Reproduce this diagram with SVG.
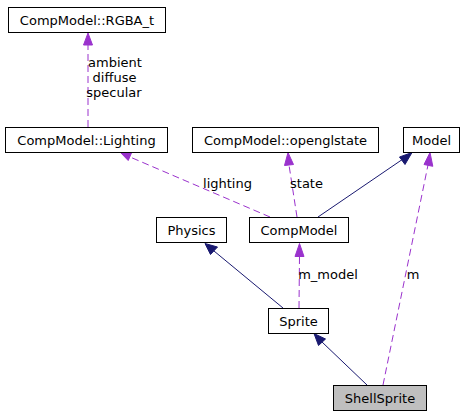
<svg xmlns="http://www.w3.org/2000/svg" width="469" height="416" viewBox="0 0 469 416">
<style>
.box{fill:#ffffff;stroke:#000000;stroke-width:1}
.sel{fill:#bfbfbf;stroke:#000000;stroke-width:1}
text{font-family:"DejaVu Sans",sans-serif;font-size:13px;fill:#000000;text-anchor:middle}
.inh{stroke:#191970;stroke-width:1;fill:none}
.use{stroke:#9a32cd;stroke-width:1;fill:none;stroke-dasharray:7,4}
.hinh{fill:#191970;stroke:#191970}
.huse{fill:#9a32cd;stroke:#9a32cd}
</style>
<rect width="469" height="416" fill="#ffffff"/>
<g id="edges">
<line class="use" x1="88" y1="127" x2="88" y2="45"/>
<polygon class="huse" points="88,33 83.5,45 92.5,45"/>
<text x="115" y="67">ambient</text>
<text x="114.5" y="82">diffuse</text>
<text x="114" y="96.5">specular</text>
<line class="use" x1="270" y1="217" x2="130" y2="157"/>
<polygon class="huse" points="120,152 131.8,152.2 128.2,160.5"/>
<text x="227.5" y="188">lighting</text>
<line class="use" x1="297" y1="217" x2="289" y2="165"/>
<polygon class="huse" points="288,152.5 284.5,165.5 293.5,164.5"/>
<text x="306.5" y="188">state</text>
<line class="inh" x1="318" y1="217" x2="403" y2="159"/>
<polygon class="hinh" points="412,152.5 399.5,157 405,164.5"/>
<line class="use" x1="383" y1="385" x2="428" y2="165"/>
<polygon class="huse" points="430,152.5 424,164.5 432.8,166.3"/>
<text x="413" y="279">m</text>
<line class="inh" x1="283" y1="308" x2="214" y2="251"/>
<polygon class="hinh" points="205,243.5 210.5,254.5 217.5,247"/>
<line class="use" x1="299" y1="308" x2="299.5" y2="256"/>
<polygon class="huse" points="299.5,243.5 295,256.5 304,256.5"/>
<text x="328" y="279">m_model</text>
<line class="inh" x1="367" y1="385" x2="322" y2="342"/>
<polygon class="hinh" points="314,333.5 318.5,345.5 325.5,339"/>
</g>
<g id="node-rgba">
<rect class="box" x="8.5" y="7.5" width="157" height="25"/>
<text x="87" y="25">CompModel::RGBA_t</text>
</g>
<g id="node-lighting">
<rect class="box" x="5.5" y="127.5" width="162" height="25"/>
<text x="86.5" y="145">CompModel::Lighting</text>
</g>
<g id="node-openglstate">
<rect class="box" x="192.5" y="127.5" width="186" height="25"/>
<text x="285.5" y="145">CompModel::openglstate</text>
</g>
<g id="node-model">
<rect class="box" x="403.5" y="127.5" width="56" height="25"/>
<text x="431.5" y="145">Model</text>
</g>
<g id="node-physics">
<rect class="box" x="156.5" y="217.5" width="70" height="25"/>
<text x="191.5" y="235">Physics</text>
</g>
<g id="node-compmodel">
<rect class="box" x="249.5" y="217.5" width="99" height="25"/>
<text x="299" y="235">CompModel</text>
</g>
<g id="node-sprite">
<rect class="box" x="268.5" y="308.5" width="60" height="25"/>
<text x="298.5" y="326">Sprite</text>
</g>
<g id="node-shellsprite">
<rect class="sel" x="333.5" y="385.5" width="93" height="25"/>
<text x="380" y="403">ShellSprite</text>
</g>
</svg>
